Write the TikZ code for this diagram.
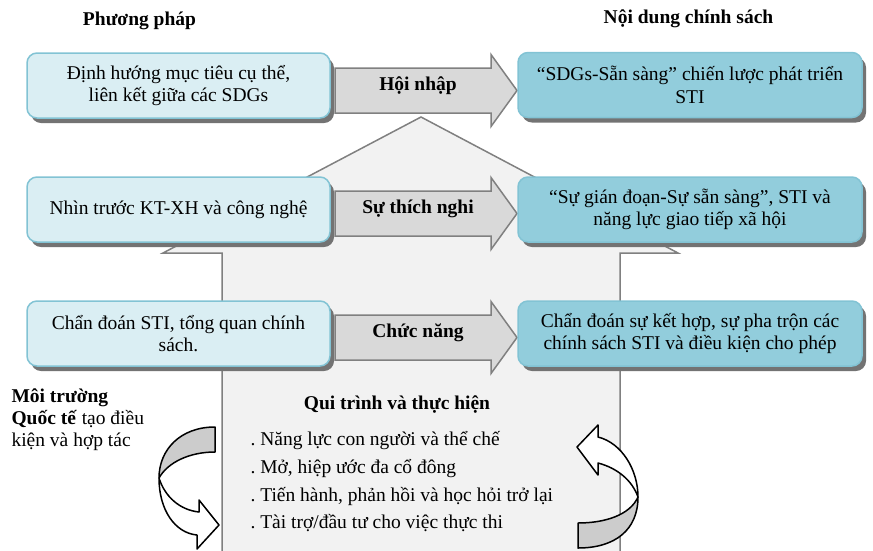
\documentclass[tikz,border=0pt]{standalone}
\usepackage{fontspec}
\setmainfont{Liberation Serif}
\usetikzlibrary{positioning, calc, shadows}

\definecolor{lblue}{RGB}{218,238,243}
\definecolor{dblue}{RGB}{146,205,220}
\definecolor{bedge}{RGB}{130,195,212}
\definecolor{agray}{RGB}{217,217,217}
\definecolor{hgray}{RGB}{242,242,242}
\definecolor{egray}{RGB}{128,128,128}
\definecolor{rgray}{RGB}{204,204,204}

\begin{document}
\begin{tikzpicture}[x=1pt, y=-1pt,
  txt/.style={font=\fontsize{19.5}{22.5}\selectfont},
  hdr/.style={font=\fontsize{19.5}{22.5}\selectfont\bfseries},
  lbox/.style={draw=bedge, line width=1.5pt, rounded corners=10pt, fill=lblue,
    minimum width=303pt, minimum height=65pt, align=center, inner sep=2pt, txt,
    drop shadow={shadow xshift=4pt, shadow yshift=-5pt, fill=black!55, opacity=1}},
  rbox/.style={lbox, fill=dblue, minimum width=344pt},
  house/.style={draw=egray, line width=1.5pt, fill=hgray},
  garrow/.style={draw=egray, line width=1.5pt, fill=agray},
  ribbon/.style={draw=black, line width=1.5pt, line join=round},
]
\useasboundingbox (0,0) rectangle (873,550);

\draw[house] (222,552) -- (222,253) -- (163,253) -- (421,117) -- (678,253) -- (620,253) -- (620,552);

\foreach \y/\t [count=\i] in {90.5/Hội nhập, 213.5/Sự thích nghi, 337.5/Chức năng} {
  \draw[garrow] (335,\y-22.5) -- (491,\y-22.5) -- (491,\y-36) -- (517,\y)
    -- (491,\y+36) -- (491,\y+22.5) -- (335,\y+22.5) -- cycle;
  \node[hdr, anchor=base] (A\i) at (418,\y) {\t};
}

\node[lbox] (PP1) at (178.5,85.5)  {Định hướng mục tiêu cụ thể,\\liên kết giữa các SDGs};
\node[lbox] (PP2) at (178.5,209.5) {Nhìn trước KT-XH và công nghệ};
\node[lbox] (PP3) at (178.5,333.5) {Chẩn đoán STI, tổng quan chính\\sách.};

\node[rbox] (ND1) at (690,85)  {“SDGs-Sẵn sàng” chiến lược phát triển\\STI};
\node[rbox] (ND2) at (690,209.5) {“Sự gián đoạn-Sự sẵn sàng”, STI và\\năng lực giao tiếp xã hội};
\node[rbox] (ND3) at (690,333.5) {Chẩn đoán sự kết hợp, sự pha trộn các\\chính sách STI và điều kiện cho phép};

\node[hdr, anchor=base] (hPP) at (139.5,25) {Phương pháp};
\node[hdr, anchor=base] (hND) at (688.5,23) {Nội dung chính sách};

\node[txt, anchor=base west] (MT1) at (8,402) {\textbf{Môi trường}};
\node[txt, anchor=base west] (MT2) at (8,424) {\textbf{Quốc tế} tạo điều};
\node[txt, anchor=base west] (MT3) at (8,446) {kiện và hợp tác};

\node[hdr, anchor=base] (QT) at (397,409) {Qui trình và thực hiện};
\foreach \t [count=\i] in {Năng lực con người và thể chế, {Mở, hiệp ước đa cổ đông},
    {Tiến hành, phản hồi và học hỏi trở lại}, Tài trợ/đầu tư cho việc thực thi}
  \node[txt, anchor=base west] (QT\i) at (247,418+27.7*\i) {.\ \t};

\draw[ribbon, fill=rgray] (215,427) .. controls (180,427) and (159,450) .. (159,478)
  .. controls (168,462) and (190,452) .. (215,452) -- cycle;
\draw[ribbon, fill=white] (159,478) .. controls (159,510) and (175,533) .. (197,535)
  -- (197,549) -- (219,525) -- (199,500) -- (199,512)
  .. controls (180,510) and (165,497) .. (159,478) -- cycle;

\draw[ribbon, fill=rgray] (578,548) .. controls (615,548) and (638,530) .. (638,497)
  .. controls (630,515) and (605,523) .. (578,523) -- cycle;
\draw[ribbon, fill=white] (638,497) .. controls (638,470) and (622,443) .. (598,437)
  -- (598,425) -- (577,447) -- (598,475) -- (598,463)
  .. controls (617,468) and (632,480) .. (638,497) -- cycle;
\end{tikzpicture}
\end{document}
